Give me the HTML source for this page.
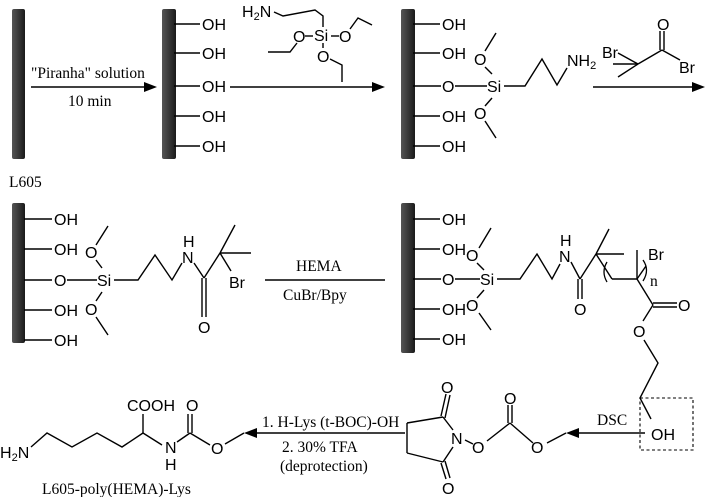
<!DOCTYPE html>
<html><head><meta charset="utf-8"><style>
html,body{margin:0;padding:0;background:#fff;}
svg{display:block;}
.a{font-family:"Liberation Sans",sans-serif;font-size:16px;fill:#000;}
.s{font-family:"Liberation Serif",serif;font-size:15.5px;fill:#000;}
line,polyline{stroke:#000;stroke-width:1.4;fill:none;}
</style></head><body>
<svg width="707" height="497" viewBox="0 0 707 497" xmlns="http://www.w3.org/2000/svg">
<defs>
<linearGradient id="g" x1="0" x2="1"><stop offset="0" stop-color="#555"/><stop offset="0.6" stop-color="#333"/><stop offset="1" stop-color="#1a1a1a"/></linearGradient>
</defs>
<rect x="12" y="9" width="13" height="150" rx="2" fill="url(#g)"/>
<rect x="162" y="9" width="14" height="150" rx="2" fill="url(#g)"/>
<rect x="401" y="9" width="14" height="150" rx="2" fill="url(#g)"/>
<rect x="12" y="203" width="13" height="140" rx="2" fill="url(#g)"/>
<rect x="401" y="203" width="14" height="150" rx="2" fill="url(#g)"/>

<line x1="31" y1="87" x2="148" y2="87"/><polygon points="157,87 144,82 144,92"/>
<text class="s" x="31" y="78">"Piranha" solution</text>
<text class="s" x="68" y="106">10 min</text>
<text class="s" x="9" y="187">L605</text>

<g>
<line x1="174" y1="24" x2="200" y2="24"/><text class="a" x="202" y="30">OH</text>
<line x1="174" y1="53" x2="200" y2="53"/><text class="a" x="202" y="59">OH</text>
<line x1="174" y1="86" x2="200" y2="86"/><text class="a" x="202" y="92">OH</text>
<line x1="174" y1="116" x2="200" y2="116"/><text class="a" x="202" y="122">OH</text>
<line x1="174" y1="146" x2="200" y2="146"/><text class="a" x="202" y="152">OH</text>
</g>
<line x1="230" y1="87" x2="376" y2="87"/><polygon points="385,87 372,82 372,92"/>
<text class="a" x="242" y="17">H<tspan font-size="11" dy="3">2</tspan><tspan dy="-3">N</tspan></text>
<polyline points="274,12 283,16 315,10 323,16 323,27"/>
<text class="a" x="314" y="41">Si</text>
<text class="a" x="293" y="42">O</text><text class="a" x="339" y="42">O</text><text class="a" x="317" y="62">O</text>
<line x1="305" y1="36" x2="313" y2="36"/><line x1="331" y1="36" x2="339" y2="36"/><line x1="323" y1="43" x2="323" y2="48"/>
<polyline points="297,43 290,52 268,52"/>
<polyline points="350,29 358,18 372,25"/>
<polyline points="330,59 342,65 342,82"/>

<line x1="413" y1="24" x2="440" y2="24"/><text class="a" x="442" y="30">OH</text>
<line x1="413" y1="53" x2="440" y2="53"/><text class="a" x="442" y="59">OH</text>
<line x1="413" y1="86" x2="441" y2="86"/><text class="a" x="442" y="92">O</text>
<line x1="413" y1="116" x2="440" y2="116"/><text class="a" x="442" y="122">OH</text>
<line x1="413" y1="146" x2="440" y2="146"/><text class="a" x="442" y="152">OH</text>
<line x1="455" y1="86" x2="487" y2="86"/>
<text class="a" x="487" y="92">Si</text>
<text class="a" x="474" y="65">O</text><text class="a" x="474" y="119">O</text>
<line x1="485" y1="67" x2="492" y2="74"/><line x1="485" y1="106" x2="492" y2="98"/>
<line x1="485" y1="51" x2="496" y2="33"/><line x1="485" y1="121" x2="496" y2="138"/>
<polyline points="504,86 525,86 542,59 557,85 567,68"/>
<text class="a" x="567" y="66">NH<tspan font-size="11" dy="3">2</tspan></text>
<text class="a" x="602" y="58">Br</text>
<line x1="618" y1="53" x2="638" y2="64"/>
<line x1="613" y1="64" x2="638" y2="64"/>
<line x1="618" y1="77" x2="638" y2="64"/>
<line x1="638" y1="64" x2="662" y2="50"/>
<line x1="660" y1="50" x2="660" y2="31"/><line x1="664" y1="50" x2="664" y2="31"/>
<text class="a" x="657" y="30">O</text>
<line x1="662" y1="50" x2="680" y2="60"/>
<text class="a" x="679" y="73">Br</text>
<line x1="593" y1="87" x2="696" y2="87"/><polygon points="705,87 692,82 692,92"/>

<line x1="24" y1="219" x2="52" y2="219"/><text class="a" x="54" y="225">OH</text>
<line x1="24" y1="249" x2="52" y2="249"/><text class="a" x="54" y="255">OH</text>
<line x1="24" y1="280" x2="52" y2="280"/><text class="a" x="54" y="286">O</text>
<line x1="24" y1="310" x2="52" y2="310"/><text class="a" x="54" y="316">OH</text>
<line x1="24" y1="340" x2="52" y2="340"/><text class="a" x="54" y="346">OH</text>
<line x1="67" y1="280" x2="97" y2="280"/>
<text class="a" x="97" y="286">Si</text>
<text class="a" x="85" y="258">O</text><text class="a" x="85" y="315">O</text>
<line x1="96" y1="260" x2="102" y2="268"/><line x1="96" y1="301" x2="102" y2="292"/>
<line x1="96" y1="245" x2="108" y2="226"/><line x1="96" y1="317" x2="108" y2="335"/>
<polyline points="114,280 138,280 155,255 172,280 182,263"/>
<text class="a" x="182" y="263">N</text><text class="a" x="183" y="247">H</text>
<line x1="194" y1="263" x2="204" y2="278"/>
<line x1="202" y1="278" x2="202" y2="317"/><line x1="206" y1="278" x2="206" y2="317"/>
<text class="a" x="198" y="333">O</text>
<line x1="204" y1="278" x2="220" y2="253"/>
<line x1="220" y1="253" x2="235" y2="225"/>
<line x1="220" y1="253" x2="251" y2="253"/>
<line x1="220" y1="253" x2="231" y2="271"/>
<text class="a" x="229" y="288">Br</text>
<line x1="265" y1="280" x2="385" y2="280"/>
<text class="s" x="296" y="271">HEMA</text>
<text class="s" x="283" y="300">CuBr/Bpy</text>

<line x1="413" y1="219" x2="440" y2="219"/><text class="a" x="442" y="225">OH</text>
<line x1="413" y1="249" x2="440" y2="249"/><text class="a" x="442" y="255">OH</text>
<line x1="413" y1="279" x2="441" y2="279"/><text class="a" x="442" y="285">O</text>
<line x1="413" y1="309" x2="440" y2="309"/><text class="a" x="442" y="315">OH</text>
<line x1="413" y1="339" x2="440" y2="339"/><text class="a" x="442" y="345">OH</text>
<line x1="455" y1="279" x2="480" y2="279"/>
<text class="a" x="480" y="285">Si</text>
<text class="a" x="466" y="261">O</text><text class="a" x="466" y="311">O</text>
<line x1="477" y1="263" x2="484" y2="270"/><line x1="477" y1="298" x2="484" y2="290"/>
<line x1="479" y1="248" x2="491" y2="228"/><line x1="479" y1="313" x2="491" y2="330"/>
<polyline points="497,279 520,279 537,254 552,279 560,264"/>
<text class="a" x="559" y="262">N</text><text class="a" x="560" y="246">H</text>
<line x1="571" y1="262" x2="580" y2="279"/>
<line x1="578" y1="279" x2="578" y2="299"/><line x1="582" y1="279" x2="582" y2="299"/>
<text class="a" x="574" y="315">O</text>
<line x1="580" y1="279" x2="596" y2="254"/>
<line x1="596" y1="254" x2="609" y2="229"/>
<line x1="596" y1="254" x2="624" y2="254"/>
<line x1="596" y1="254" x2="612" y2="279"/>
<path d="M607,262 Q601,272 607,282" stroke="#000" stroke-width="1.3" fill="none"/>
<line x1="612" y1="279" x2="637" y2="279"/>
<line x1="637" y1="279" x2="637" y2="250"/>
<line x1="637" y1="279" x2="646" y2="266"/>
<text class="a" x="648" y="260">Br</text>
<path d="M643,260 Q650,270 643,281" stroke="#000" stroke-width="1.3" fill="none"/>
<text class="s" x="650" y="286" font-size="12">n</text>
<line x1="637" y1="279" x2="653" y2="305"/>
<line x1="653" y1="303" x2="677" y2="303"/><line x1="653" y1="307" x2="677" y2="307"/>
<text class="a" x="678" y="311">O</text>
<line x1="653" y1="305" x2="643" y2="321"/>
<text class="a" x="633" y="337">O</text>
<polyline points="644,340 658,363 640,398 651,419"/>
<text class="a" x="651" y="440">OH</text>
<rect x="640" y="398" width="53" height="52" fill="none" stroke="#000" stroke-width="1.1" stroke-dasharray="3,2.5"/>
<line x1="645" y1="433" x2="576" y2="433"/><polygon points="566,433 579,428 579,438"/>
<text class="s" x="597" y="425">DSC</text>

<line x1="566" y1="433" x2="547" y2="443"/>
<text class="a" x="531" y="453">O</text>
<line x1="533" y1="443" x2="510" y2="423"/>
<line x1="508" y1="423" x2="508" y2="405"/><line x1="512" y1="423" x2="512" y2="405"/>
<text class="a" x="504" y="404">O</text>
<line x1="510" y1="423" x2="487" y2="441"/>
<text class="a" x="472" y="453">O</text>
<line x1="473" y1="444" x2="465" y2="440"/>
<text class="a" x="451" y="444">N</text>
<line x1="453" y1="430" x2="443" y2="417"/>
<line x1="443" y1="417" x2="407" y2="423"/>
<line x1="407" y1="423" x2="407" y2="453"/>
<line x1="407" y1="453" x2="443" y2="462"/>
<line x1="443" y1="462" x2="453" y2="447"/>
<line x1="441" y1="416" x2="446" y2="394"/><line x1="445" y1="418" x2="450" y2="395"/>
<text class="a" x="441" y="393">O</text>
<line x1="441" y1="463" x2="446" y2="479"/><line x1="445" y1="461" x2="450" y2="478"/>
<text class="a" x="442" y="494">O</text>

<line x1="405" y1="433" x2="254" y2="433"/><polygon points="244,433 257,428 257,438"/>
<text class="s" x="262" y="427">1. H-Lys (t-BOC)-OH</text>
<text class="s" x="282" y="452">2. 30% TFA</text>
<text class="s" x="280" y="471">(deprotection)</text>

<text class="a" x="0" y="458">H<tspan font-size="11" dy="3">2</tspan><tspan dy="-3">N</tspan></text>
<polyline points="31,447 47,433 72,447 97,433 122,447 143,433 162,445"/>
<line x1="143" y1="433" x2="143" y2="414"/>
<text class="a" x="127" y="411">COOH</text>
<text class="a" x="165" y="453">N</text><text class="a" x="165" y="470">H</text>
<line x1="177" y1="442" x2="190" y2="433"/>
<line x1="188" y1="433" x2="188" y2="414"/><line x1="192" y1="433" x2="192" y2="414"/>
<text class="a" x="186" y="411">O</text>
<line x1="190" y1="433" x2="210" y2="445"/>
<text class="a" x="211" y="454">O</text>
<line x1="225" y1="444" x2="244" y2="433"/>
<text class="s" x="42" y="494">L605-poly(HEMA)-Lys</text>
</svg>
</body></html>
